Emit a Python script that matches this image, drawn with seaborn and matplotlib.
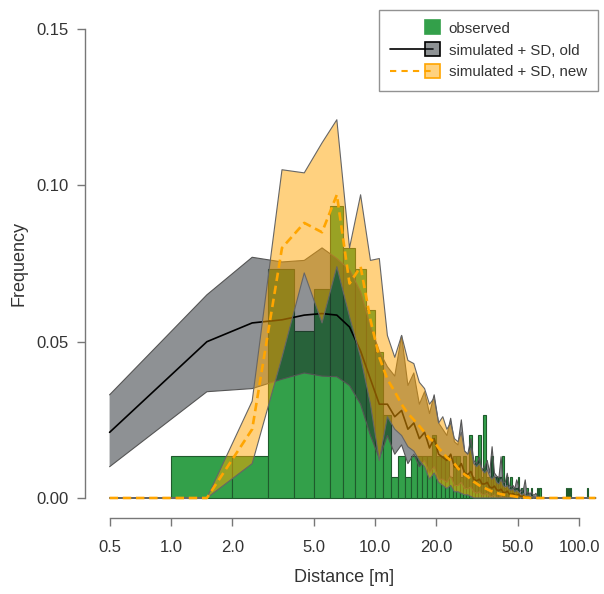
import matplotlib
matplotlib.use("Agg")
import matplotlib.pyplot as plt
import numpy as np
import seaborn as sns
from matplotlib.legend_handler import HandlerBase
from matplotlib.lines import Line2D
from matplotlib.patches import Patch, Rectangle

# observed histogram: 1 m bins, left edges and relative frequency
obs_left = [1, 2, 3, 4, 5, 6, 7, 8, 9, 10, 11, 12, 13, 14, 15, 16, 17, 18, 19, 20,
            21, 22, 23, 24, 25, 26, 27, 28, 29, 30, 31, 32, 33, 34, 35, 36, 37, 38, 39, 40,
            41, 42, 43, 44, 45, 46, 47, 48, 49, 50, 52, 55, 58, 62, 64, 86, 88, 90, 110]
obs_freq = [0.0133, 0.0133, 0.0733, 0.0533, 0.0667, 0.0933, 0.0800, 0.0733, 0.0600, 0.0467,
            0.0267, 0.0067, 0.0133, 0.0067, 0.0133, 0.0133, 0.0133, 0.0133, 0.0200, 0.0133,
            0.0133, 0.0133, 0.0067, 0.0133, 0.0133, 0.0067, 0.0133, 0.0067, 0.0200, 0.0067,
            0.0133, 0.0200, 0.0067, 0.0267, 0.0067, 0.0067, 0.0133, 0.0067, 0.0067, 0.0067,
            0.0067, 0.0133, 0.0033, 0.0067, 0.0033, 0.0067, 0.0033, 0.0033, 0.0033, 0.0067,
            0.0033, 0.0033, 0.0033, 0.0033, 0.0033, 0.0033, 0.0033, 0.0033, 0.0033]

# simulated distances (bin midpoints, 0.5 ... 120.5)
sim_x = np.arange(0.5, 121, 1.0)

old_mean = [0.021, 0.050, 0.056, 0.057, 0.0585, 0.059, 0.0585, 0.0547, 0.047, 0.038,
            0.030, 0.030, 0.026, 0.028, 0.022, 0.024, 0.019, 0.021, 0.016, 0.019,
            0.014, 0.013, 0.012, 0.014, 0.010, 0.0095, 0.011, 0.008, 0.0075, 0.0085,
            0.006, 0.0055, 0.006, 0.0045, 0.0045, 0.005, 0.0035, 0.0032, 0.0038, 0.0026,
            0.0024, 0.0028, 0.0018, 0.0017, 0.0022, 0.0013, 0.0012, 0.0014, 0.0009, 0.0008,
            0.0011, 0.0006, 0.0005, 0.0007, 0.0004, 0.0003, 0.0004, 0.0002, 0.0002, 0.0002,
            0.0001, 0.0001, 0.0001, 0.0, 0.0, 0.0, 0.0, 0.0, 0.0, 0.0] + [0.0] * 51
old_lo = [0.010, 0.034, 0.035, 0.038, 0.040, 0.039, 0.0388, 0.036, 0.030, 0.020,
          0.0127, 0.020, 0.014, 0.017, 0.011, 0.014, 0.010, 0.012, 0.008, 0.010,
          0.006, 0.006, 0.005, 0.007, 0.004, 0.004, 0.005, 0.003, 0.003, 0.0035,
          0.002, 0.0015, 0.002, 0.001, 0.001, 0.0015, 0.0005, 0.0005, 0.001, 0.0,
          0.0, 0.0005, 0.0, 0.0, 0.0, 0.0, 0.0, 0.0, 0.0, 0.0,
          0.0, 0.0, 0.0, 0.0, 0.0, 0.0, 0.0, 0.0, 0.0, 0.0,
          0.0, 0.0, 0.0, 0.0, 0.0, 0.0, 0.0, 0.0, 0.0, 0.0] + [0.0] * 51
old_hi = [0.033, 0.065, 0.077, 0.0755, 0.076, 0.080, 0.0766, 0.073, 0.066, 0.055,
          0.047, 0.042, 0.039, 0.052, 0.036, 0.040, 0.030, 0.034, 0.027, 0.033,
          0.024, 0.022, 0.020, 0.0255, 0.018, 0.017, 0.025, 0.015, 0.014, 0.019,
          0.012, 0.011, 0.013, 0.009, 0.010, 0.012, 0.008, 0.0164, 0.008, 0.007,
          0.0065, 0.0132, 0.005, 0.005, 0.0079, 0.004, 0.0035, 0.004, 0.003, 0.0058,
          0.004, 0.0025, 0.002, 0.003, 0.0058, 0.0015, 0.002, 0.001, 0.002, 0.001,
          0.001, 0.0015, 0.0005, 0.0003, 0.0, 0.0, 0.0, 0.0, 0.0, 0.0] + [0.0] * 51

new_mean = [0.0, 0.0, 0.022, 0.080, 0.088, 0.085, 0.097, 0.0686, 0.074, 0.057,
            0.045, 0.038, 0.034, 0.030, 0.027, 0.025, 0.023, 0.021, 0.019, 0.018,
            0.016, 0.0145, 0.013, 0.012, 0.011, 0.0095, 0.0085, 0.0075, 0.0068, 0.006,
            0.0052, 0.0046, 0.004, 0.0036, 0.0032, 0.0028, 0.0024, 0.0021, 0.0018, 0.0016,
            0.0014, 0.0012, 0.0011, 0.001, 0.0009, 0.0008, 0.0007, 0.0006, 0.0005, 0.0004,
            0.0003, 0.0003, 0.0002, 0.0002, 0.0001, 0.0001, 0.0001, 0.0, 0.0, 0.0,
            0.0, 0.0, 0.0, 0.0, 0.0, 0.0, 0.0, 0.0, 0.0, 0.0] + [0.0] * 51
new_lo = [0.0, 0.0, 0.011, 0.045, 0.072, 0.056, 0.074, 0.058, 0.045, 0.030,
          0.012, 0.026, 0.022, 0.020, 0.0164, 0.015, 0.012, 0.010, 0.006, 0.008,
          0.005, 0.004, 0.003, 0.004, 0.002, 0.002, 0.0015, 0.001, 0.001, 0.0005,
          0.0, 0.0, 0.0, 0.0, 0.0, 0.0, 0.0, 0.0, 0.0, 0.0,
          0.0, 0.0, 0.0, 0.0, 0.0, 0.0, 0.0, 0.0, 0.0, 0.0,
          0.0, 0.0, 0.0, 0.0, 0.0, 0.0, 0.0, 0.0, 0.0, 0.0,
          0.0, 0.0, 0.0, 0.0, 0.0, 0.0, 0.0, 0.0, 0.0, 0.0] + [0.0] * 51
new_hi = [0.0, 0.0, 0.031, 0.105, 0.104, 0.1136, 0.121, 0.080, 0.097, 0.076,
          0.0766, 0.052, 0.045, 0.052, 0.044, 0.043, 0.037, 0.035, 0.030, 0.032,
          0.024, 0.026, 0.022, 0.024, 0.019, 0.018, 0.021, 0.015, 0.014, 0.016,
          0.011, 0.010, 0.011, 0.009, 0.008, 0.009, 0.007, 0.006, 0.007, 0.005,
          0.0045, 0.006, 0.004, 0.0035, 0.004, 0.003, 0.0025, 0.003, 0.002, 0.0025,
          0.002, 0.0015, 0.001, 0.0015, 0.001, 0.0008, 0.001, 0.0005, 0.0005, 0.0004,
          0.0003, 0.0002, 0.0, 0.0, 0.0, 0.0, 0.0, 0.0, 0.0, 0.0] + [0.0] * 51

x_ticks = [0.5, 1.0, 2.0, 5.0, 10.0, 20.0, 50.0, 100.0]
x_ticklabels = ["0.5", "1.0", "2.0", "5.0", "10.0", "20.0", "50.0", "100.0"]
y_ticks = [0.00, 0.05, 0.10, 0.15]
y_ticklabels = ["0.00", "0.05", "0.10", "0.15"]
legend_labels = ["observed", "simulated + SD, old", "simulated + SD, new"]

sns.set_style("ticks")
plt.rcParams["font.family"] = ["Liberation Sans", "DejaVu Sans"]

green = "#33a04a"
gray_fill = "#1e252b"
orange = "#ffa500"
text_col = "#333333"
axis_col = "#777777"


class BoxLineHandler(HandlerBase):
    """R-style legend key: a line running into a filled square."""

    def __init__(self, face, edge, line_color=None, dashes=None, lw=1.2):
        super().__init__()
        self.face, self.edge = face, edge
        self.line_color, self.dashes, self.lw = line_color, dashes, lw

    def create_artists(self, legend, orig_handle, xdescent, ydescent,
                       width, height, fontsize, trans):
        side = 0.95 * fontsize
        cy = (height - ydescent) / 2
        x_sq = -xdescent + width - side
        artists = []
        if self.line_color is not None:
            ln = Line2D([-xdescent, x_sq + side / 2], [cy, cy], color=self.line_color,
                        linewidth=self.lw, transform=trans)
            if self.dashes:
                ln.set_dashes(self.dashes)
            artists.append(ln)
        sq = Rectangle((x_sq, cy - side / 2), side, side, facecolor=self.face,
                       edgecolor=self.edge, linewidth=1.2, transform=trans)
        artists.append(sq)
        return artists


fig = plt.figure(figsize=(6.04, 5.94), dpi=100)
ax = fig.add_axes([85 / 604, 1 - 518 / 594, 1 - 85 / 604, (518 - 10) / 594])
ax.set_xscale("log")

# observed bars
ax.bar(obs_left, obs_freq, width=1.0, align="edge", color=green,
       edgecolor="#1f5a2c", linewidth=0.8, zorder=1)

# old simulation band + mean
ax.fill_between(sim_x, old_lo, old_hi, color=gray_fill, alpha=0.5,
                edgecolor="none", zorder=2)
ax.plot(np.concatenate([sim_x, sim_x[::-1]]), np.concatenate([old_hi, old_lo[::-1]]),
        color="#555555", linewidth=0.8, zorder=2)
sns.lineplot(x=sim_x, y=old_mean, color="black", linewidth=1.2, ax=ax, zorder=3)

# new simulation band + mean
ax.fill_between(sim_x, new_lo, new_hi, color=orange, alpha=0.5,
                edgecolor="none", zorder=4)
ax.plot(np.concatenate([sim_x, sim_x[::-1]]), np.concatenate([new_hi, new_lo[::-1]]),
        color="#666666", linewidth=0.8, zorder=4)
sns.lineplot(x=sim_x, y=new_mean, color=orange, linewidth=1.9, ax=ax, zorder=5)
ax.lines[-1].set_dashes([3.2, 1.8])

ax.set_xlim(10 ** ((85 - 171) / 204), 10 ** ((604 - 171) / 204))
ax.set_ylim(-0.0064, 0.1561)
ax.set_xticks(x_ticks)
ax.set_xticklabels(x_ticklabels)
ax.minorticks_off()
ax.set_yticks(y_ticks)
ax.set_yticklabels(y_ticklabels)

sns.despine(ax=ax)
ax.spines["left"].set_bounds(0.0, 0.15)
ax.spines["bottom"].set_bounds(0.5, 100)
for s in ["left", "bottom"]:
    ax.spines[s].set_color(axis_col)
    ax.spines[s].set_linewidth(1.0)
ax.tick_params(axis="both", colors=axis_col, labelcolor=text_col,
               labelsize=12, length=6, width=1.0)
ax.tick_params(axis="x", pad=10)
ax.tick_params(axis="y", pad=6)

ax.set_xlabel("Distance [m]", fontsize=13, color=text_col, labelpad=10)
ax.set_ylabel("Frequency", fontsize=13, color=text_col, labelpad=6)

handles = [Patch(), Patch(), Patch()]
hmap = {
    handles[0]: BoxLineHandler(green, green),
    handles[1]: BoxLineHandler((0.12, 0.15, 0.17, 0.5), "black", line_color="black"),
    handles[2]: BoxLineHandler((1.0, 0.65, 0.0, 0.5), orange, line_color=orange,
                               dashes=[3, 2.5], lw=1.5),
}
leg = ax.legend(handles, legend_labels, handler_map=hmap, loc="upper right",
                bbox_to_anchor=(598 / 604, 1 - 10 / 594), bbox_transform=fig.transFigure,
                fontsize=10.8, frameon=True, fancybox=False, edgecolor="#777777",
                handlelength=3.3, handleheight=0.9, borderpad=0.75, labelspacing=0.5,
                handletextpad=0.6, borderaxespad=0.0)
leg.get_frame().set_linewidth(1.0)
for t in leg.get_texts():
    t.set_color(text_col)

fig.savefig("out.png", dpi=100)
